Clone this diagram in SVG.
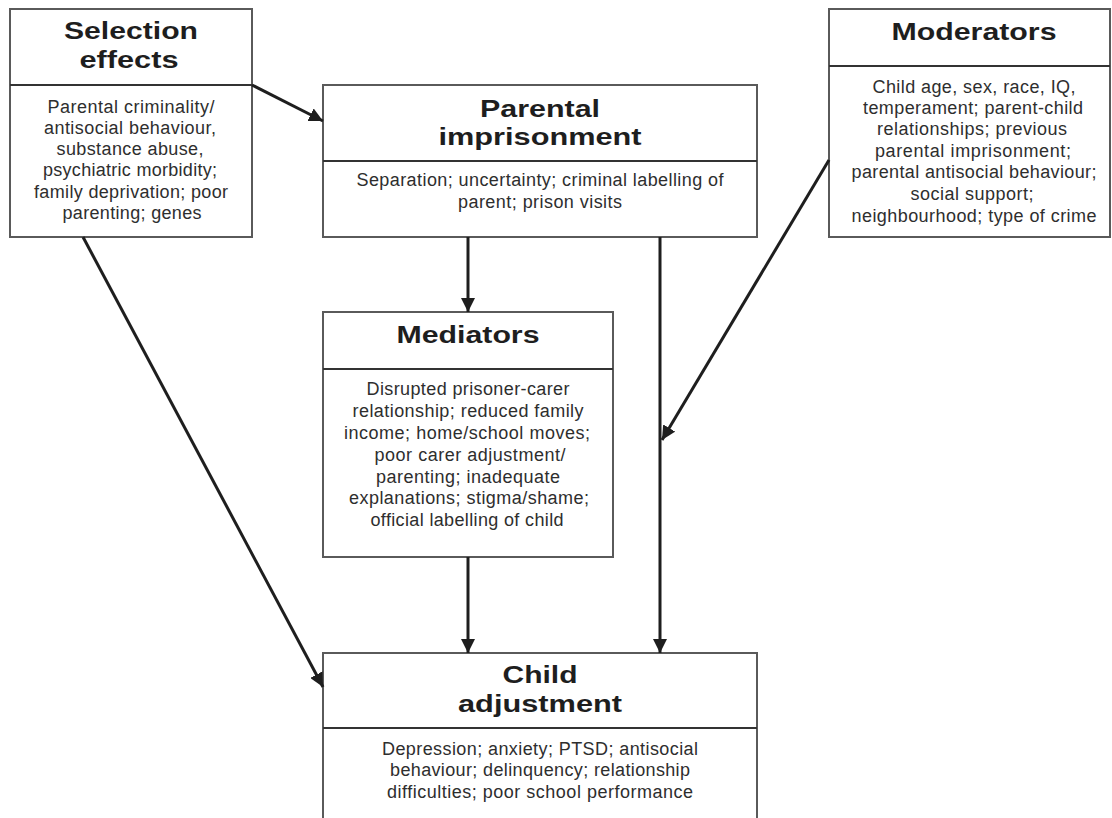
<svg xmlns="http://www.w3.org/2000/svg" width="1112" height="818" viewBox="0 0 1112 818">
<style>
.box{fill:#fff;stroke:#5a5a5a;stroke-width:2}
.div{stroke:#333;stroke-width:2}
.t{font-family:"Liberation Sans",Arial,sans-serif;font-weight:bold;font-size:23px;fill:#1e1e1e;text-anchor:middle}
.b{font-family:"Liberation Sans",Arial,sans-serif;font-size:18px;fill:#2e2e2e;text-anchor:middle}
.c{stroke:#1e1e1e;stroke-width:3;fill:none;marker-end:url(#ah)}
</style>
<defs>
<marker id="ah" markerUnits="userSpaceOnUse" markerWidth="15" markerHeight="14" refX="14" refY="7" orient="auto">
<path d="M0,0 L14,7 L0,14 z" fill="#1e1e1e"/>
</marker>
</defs>
<rect width="1112" height="818" fill="#fff"/>
<g id="selection">
<rect class="box" x="10" y="9" width="242" height="228"/>
<line class="div" x1="10" y1="85" x2="252" y2="85"/>
<text class="t" x="131" y="39" textLength="134" lengthAdjust="spacingAndGlyphs">Selection</text>
<text class="t" x="129" y="68" textLength="99" lengthAdjust="spacingAndGlyphs">effects</text>
<text class="b" x="131" y="113" textLength="167">Parental criminality/</text>
<text class="b" x="130" y="134" textLength="172">antisocial behaviour,</text>
<text class="b" x="130" y="155" textLength="147">substance abuse,</text>
<text class="b" x="130" y="176" textLength="174">psychiatric morbidity;</text>
<text class="b" x="131" y="198" textLength="194">family deprivation; poor</text>
<text class="b" x="132" y="219" textLength="139">parenting; genes</text>
</g>
<g id="parental">
<rect class="box" x="323" y="85" width="434" height="152"/>
<line class="div" x1="323" y1="161" x2="757" y2="161"/>
<text class="t" x="540" y="117" textLength="120" lengthAdjust="spacingAndGlyphs">Parental</text>
<text class="t" x="540" y="145" textLength="203" lengthAdjust="spacingAndGlyphs">imprisonment</text>
<text class="b" x="540" y="186" textLength="367">Separation; uncertainty; criminal labelling of</text>
<text class="b" x="540" y="208" textLength="164">parent; prison visits</text>
</g>
<g id="moderators">
<rect class="box" x="829" y="9" width="281" height="228"/>
<line class="div" x1="829" y1="66" x2="1110" y2="66"/>
<text class="t" x="974" y="40" textLength="165" lengthAdjust="spacingAndGlyphs">Moderators</text>
<text class="b" x="974" y="93" textLength="203">Child age, sex, race, IQ,</text>
<text class="b" x="973" y="114" textLength="220">temperament; parent-child</text>
<text class="b" x="972" y="135" textLength="190">relationships; previous</text>
<text class="b" x="973" y="157" textLength="196">parental imprisonment;</text>
<text class="b" x="974" y="178" textLength="245">parental antisocial behaviour;</text>
<text class="b" x="972" y="200" textLength="123">social support;</text>
<text class="b" x="974" y="222" textLength="245">neighbourhood; type of crime</text>
</g>
<g id="mediators">
<rect class="box" x="323" y="312" width="290" height="245"/>
<line class="div" x1="323" y1="369" x2="613" y2="369"/>
<text class="t" x="468" y="343" textLength="143" lengthAdjust="spacingAndGlyphs">Mediators</text>
<text class="b" x="468" y="395" textLength="203">Disrupted prisoner-carer</text>
<text class="b" x="468" y="417" textLength="231">relationship; reduced family</text>
<text class="b" x="467" y="439" textLength="246">income; home/school moves;</text>
<text class="b" x="470" y="461" textLength="191">poor carer adjustment/</text>
<text class="b" x="468" y="483" textLength="184">parenting; inadequate</text>
<text class="b" x="469" y="504" textLength="240">explanations; stigma/shame;</text>
<text class="b" x="467" y="526" textLength="193">official labelling of child</text>
</g>
<g id="child">
<rect class="box" x="323" y="653" width="434" height="175"/>
<line class="div" x1="323" y1="728" x2="757" y2="728"/>
<text class="t" x="540" y="683" textLength="75" lengthAdjust="spacingAndGlyphs">Child</text>
<text class="t" x="540" y="712" textLength="164" lengthAdjust="spacingAndGlyphs">adjustment</text>
<text class="b" x="540" y="755" textLength="316">Depression; anxiety; PTSD; antisocial</text>
<text class="b" x="540" y="776" textLength="300">behaviour; delinquency; relationship</text>
<text class="b" x="540" y="798" textLength="306">difficulties; poor school performance</text>
</g>
<g id="connectors">
<line class="c" x1="252" y1="85" x2="323" y2="121"/>
<line class="c" x1="83" y1="237" x2="323" y2="687"/>
<line class="c" x1="468" y1="237" x2="468" y2="312"/>
<line class="c" x1="468" y1="557" x2="468" y2="653"/>
<line class="c" x1="660" y1="237" x2="660" y2="653"/>
<line class="c" x1="829" y1="160" x2="662" y2="440"/>
</g>
</svg>
